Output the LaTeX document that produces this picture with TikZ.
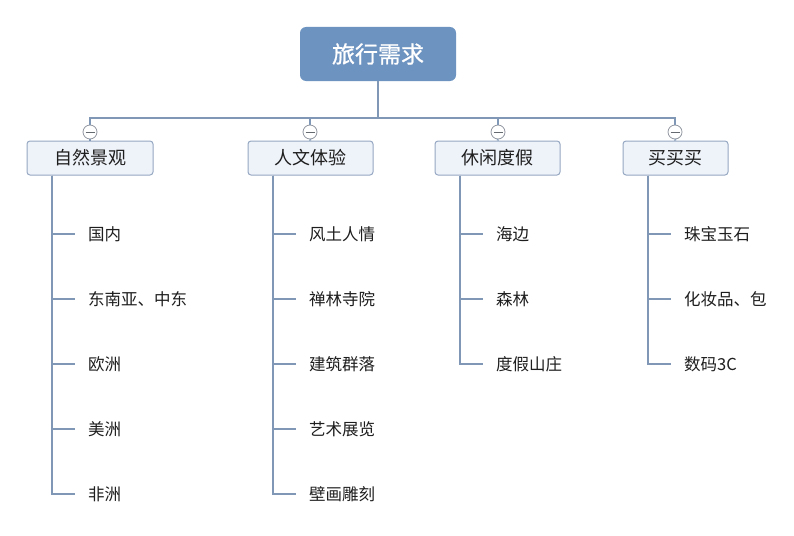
\documentclass[tikz,border=0pt]{standalone}
\usepackage{fontspec}
\newfontfamily\cjk{Noto Sans CJK SC}
\newfontfamily\cjkb[FakeBold=1]{Noto Sans CJK SC}
\definecolor{rootblue}{RGB}{109,147,193}
\definecolor{catfill}{RGB}{238,242,249}
\definecolor{catdraw}{RGB}{150,168,194}
\definecolor{linec}{RGB}{128,152,182}
\definecolor{foldc}{RGB}{145,150,160}
\definecolor{txt}{RGB}{30,30,30}
\begin{document}
\begin{tikzpicture}[x=1pt,y=-1pt,
  rootbox/.style={draw=none,fill=rootblue,rounded corners=6pt,minimum width=156pt,minimum height=54pt,text=white,font=\cjkb\fontsize{23}{26}\selectfont,inner sep=0pt},
  catbox/.style={draw=catdraw,line width=1pt,fill=catfill,rounded corners=3pt,minimum height=34pt,text=txt,font=\cjk\fontsize{18}{20}\selectfont,inner sep=0pt},
  leaf/.style={anchor=west,text=txt,font=\cjk\fontsize{16.5}{18}\selectfont,inner sep=0pt},
  conn/.style={draw=linec,line width=2.5pt},
  bus/.style={draw=linec,line width=2pt},
  fold/.style={circle,draw=foldc,line width=0.8pt,fill=white,minimum size=14pt,inner sep=0pt,
    path picture={\draw[foldc!70!black,line width=0.8pt] ([xshift=-4.5pt]path picture bounding box.center) -- ([xshift=4.5pt]path picture bounding box.center);}}
]
\useasboundingbox[fill=white] (0,0) rectangle (794,535);

\node[rootbox] (root) at (378,54) {旅行需求};

\node[catbox,minimum width=126pt] (catA) at (90,158) {自然景观};
\node[catbox,minimum width=125pt] (catB) at (310.5,158) {人文体验};
\node[catbox,minimum width=125pt] (catC) at (497.5,158) {休闲度假};
\node[catbox,minimum width=105pt] (catD) at (675.5,158) {买买买};

\node[fold] (fA) at (90,132) {};
\node[fold] (fB) at (310,132) {};
\node[fold] (fC) at (498,132) {};
\node[fold] (fD) at (675,132) {};

\coordinate (bar) at (378,118);
\draw[bus] (root.south) -- (bar);
\foreach \f in {fA,fB,fC,fD}{\draw[bus] (bar) -| (\f.north);}
\draw[bus] (fA.south) -- (catA.north);
\draw[bus] (fB.south) -- (catB.north);
\draw[bus] (fC.south) -- (catC.north);
\draw[bus] (fD.south) -- (catD.north);

% leaves
\node[leaf] (a1) at (88,234) {国内};
\node[leaf] (a2) at (88,299) {东南亚、中东};
\node[leaf] (a3) at (88,364) {欧洲};
\node[leaf] (a4) at (88,429) {美洲};
\node[leaf] (a5) at (88,494) {非洲};

\node[leaf] (b1) at (309,234) {风土人情};
\node[leaf] (b2) at (309,299) {禅林寺院};
\node[leaf] (b3) at (309,364) {建筑群落};
\node[leaf] (b4) at (309,429) {艺术展览};
\node[leaf] (b5) at (309,494) {壁画雕刻};

\node[leaf] (c1) at (496,234) {海边};
\node[leaf] (c2) at (496,299) {森林};
\node[leaf] (c3) at (496,364) {度假山庄};

\node[leaf] (d1) at (684,234) {珠宝玉石};
\node[leaf] (d2) at (684,299) {化妆品、包};
\node[leaf] (d3) at (684,364) {数码3C};

\coordinate (tA) at (52,175);
\coordinate (tB) at (273,175);
\coordinate (tC) at (460,175);
\coordinate (tD) at (648,175);

\foreach \l in {a1,a2,a3,a4,a5}{\draw[conn] (catA.south -| tA) |- ([xshift=-13pt]\l.west);}
\foreach \l in {b1,b2,b3,b4,b5}{\draw[conn] (catB.south -| tB) |- ([xshift=-13pt]\l.west);}
\foreach \l in {c1,c2,c3}{\draw[conn] (catC.south -| tC) |- ([xshift=-13pt]\l.west);}
\foreach \l in {d1,d2,d3}{\draw[conn] (catD.south -| tD) |- ([xshift=-13pt]\l.west);}
\end{tikzpicture}
\end{document}
